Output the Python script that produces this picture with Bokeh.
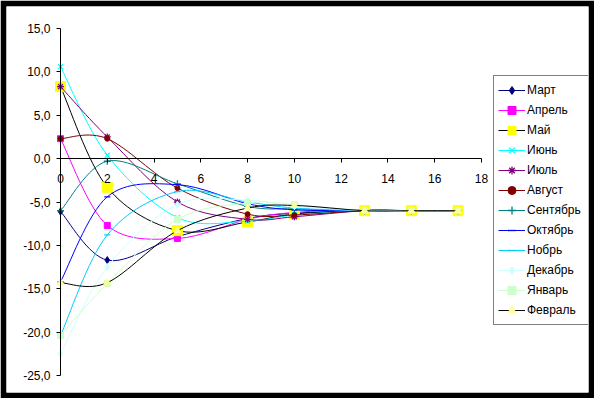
from bokeh.plotting import figure
from bokeh.models import (LinearAxis, Legend, LegendItem, FixedTicker, Range1d,
                          ColumnDataSource)
from bokeh.embed import file_html
from bokeh.resources import INLINE

# ---------------- data ----------------
x_vals = [0, 2, 5, 8, 10, 13, 15, 17]
x_ticks = [0, 2, 4, 6, 8, 10, 12, 14, 16, 18]
y_ticks = [-25, -20, -15, -10, -5, 0, 5, 10, 15]
y_tick_labels = ["-25,0", "-20,0", "-15,0", "-10,0", "-5,0", "0,0", "5,0", "10,0", "15,0"]

names = ["Март", "Апрель", "Май", "Июнь", "Июль", "Август",
         "Сентябрь", "Октябрь", "Нобрь", "Декабрь", "Январь", "Февраль"]

mart     = [-6.1, -11.7, -9.0, -6.9, -6.3, -6.0, -6.0, -6.0]
aprel    = [2.3, -7.7, -9.2, -7.0, -6.2, -5.9, -6.0, -6.0]
mai      = [8.3, -3.3, -8.3, -7.3, -6.4, -6.0, -6.0, -6.0]
iyun     = [10.6, 0.4, -6.8, -7.2, -6.5, -6.0, -6.0, -6.0]
iyul     = [8.3, 2.5, -5.0, -7.0, -6.7, -6.0, -6.0, -6.0]
avgust   = [2.3, 2.3, -3.4, -6.4, -6.5, -6.0, -6.0, -6.0]
sentyabr = [-6.0, -0.3, -2.9, -5.5, -5.8, -6.0, -6.0, -6.0]
oktyabr  = [-14.2, -4.4, -3.0, -5.2, -5.9, -6.0, -6.0, -6.0]
noyabr   = [-20.4, -8.8, -3.8, -5.0, -5.7, -6.0, -6.0, -6.0]
dekabr   = [-22.5, -12.5, -5.3, -4.8, -5.5, -6.0, -6.0, -6.0]
yanvar   = [-20.4, -14.4, -7.0, -5.1, -5.3, -6.0, -6.0, -6.0]
fevral   = [-14.3, -14.3, -8.3, -5.7, -5.4, -6.0, -6.0, -6.0]

series = [mart, aprel, mai, iyun, iyul, avgust, sentyabr, oktyabr, noyabr, dekabr, yanvar, fevral]

# ---------------- styles ----------------
line_colors = ["#000080", "#FF00FF", "#000000", "#00FFFF", "#800080", "#800000",
               "#008080", "#0000FF", "#00CCFF", "#CCFFFF", "#CCFFCC", "#000000"]
marker_fill = ["#000080", "#FF00FF", "#FFFF00", "#00FFFF", "#800080", "#800000",
               "#008080", "#0000FF", "#00CCFF", "#CCFFFF", "#CCFFCC", "#FFFF99"]
markers = ["diamond", "square", "square", "x", "asterisk", "circle",
           "cross", "dash", "dash", "diamond", "square", "triangle"]
msizes = [7, 6, 10, 7, 7, 5, 7, 6, 6, 7, 6, 7]

FONT = "Liberation Sans"

# ---------------- layout ----------------
W, H = 594, 398
B = 6  # black frame width
X0_PX, X18_PX = 60, 481
Y15_PX, YM25_PX = 28, 375
FW, FH = W - 2 * B, H - 2 * B
sx = (X18_PX - X0_PX) / 18.0
sy = (YM25_PX - Y15_PX) / 40.0
x_start = 0 - (X0_PX - B) / sx
x_end = x_start + FW / sx
y_end = 15 + (Y15_PX - B) / sy
y_start = y_end - FH / sy

p = figure(width=W, height=H, x_range=Range1d(x_start, x_end), y_range=Range1d(y_start, y_end),
           x_axis_location=None, y_axis_location=None,
           min_border_left=B, min_border_right=B, min_border_top=B, min_border_bottom=B,
           output_backend="svg", toolbar_location=None,
           background_fill_color="white", border_fill_color="black",
           outline_line_color=None)
p.xgrid.grid_line_color = None
p.ygrid.grid_line_color = None

xaxis = LinearAxis(fixed_location=0, bounds=(0, 18), ticker=FixedTicker(ticks=x_ticks))
xaxis.major_tick_in = 0
xaxis.major_tick_out = 4
xaxis.minor_tick_out = 0
xaxis.minor_tick_in = 0
xaxis.major_label_standoff = 11
xaxis.major_label_text_font = FONT
xaxis.major_label_text_font_size = "12px"
xaxis.major_label_text_color = "black"
xaxis.axis_line_color = "black"
xaxis.major_tick_line_color = "black"
p.add_layout(xaxis, "below")

yaxis = LinearAxis(fixed_location=0, bounds=(-25, 15), ticker=FixedTicker(ticks=y_ticks))
yaxis.major_label_overrides = {t: l for t, l in zip(y_ticks, y_tick_labels)}
yaxis.major_tick_in = 0
yaxis.major_tick_out = 4
yaxis.minor_tick_out = 0
yaxis.minor_tick_in = 0
yaxis.major_label_standoff = 6
yaxis.major_label_text_font = FONT
yaxis.major_label_text_font_size = "12px"
yaxis.major_label_text_color = "black"
yaxis.axis_line_color = "black"
yaxis.major_tick_line_color = "black"
p.add_layout(yaxis, "left")


def smooth_segments(xs, ys, t=1.0 / 6.0):
    n = len(xs)
    d = dict(x0=[], y0=[], x1=[], y1=[], cx0=[], cy0=[], cx1=[], cy1=[])
    for i in range(n - 1):
        xa, ya = xs[i], ys[i]
        xb, yb = xs[i + 1], ys[i + 1]
        xp, yp = (xs[i - 1], ys[i - 1]) if i > 0 else (xa, ya)
        xn, yn = (xs[i + 2], ys[i + 2]) if i + 2 < n else (xb, yb)
        d["x0"].append(xa); d["y0"].append(ya)
        d["x1"].append(xb); d["y1"].append(yb)
        d["cx0"].append(xa + (xb - xp) * t); d["cy0"].append(ya + (yb - yp) * t)
        d["cx1"].append(xb - (xn - xa) * t); d["cy1"].append(yb - (yn - ya) * t)
    return d


items = []
for name, ys, lc, mf, mk, ms in zip(names, series, line_colors, marker_fill, markers, msizes):
    seg = ColumnDataSource(smooth_segments(x_vals, ys))
    br = p.bezier(x0="x0", y0="y0", x1="x1", y1="y1", cx0="cx0", cy0="cy0",
                  cx1="cx1", cy1="cy1", source=seg, line_color=lc, line_width=1)
    sr = p.scatter(x=x_vals, y=ys, marker=mk, size=ms, fill_color=mf, line_color=mf,
                   line_width=1.3 if mk in ("x", "asterisk", "cross", "dash") else 1)
    items.append(LegendItem(label=name, renderers=[br, sr]))

legend = Legend(items=items, location=(487, 67))
legend.border_line_color = "black"
legend.border_line_width = 1
legend.background_fill_color = "white"
legend.background_fill_alpha = 1
legend.padding = 4
legend.margin = 0
legend.spacing = 0
legend.glyph_width = 27
legend.glyph_height = 20
legend.label_height = 20
legend.label_width = 57
legend.label_standoff = 2
legend.label_text_font = FONT
legend.label_text_font_size = "12px"
legend.label_text_color = "black"
p.add_layout(legend, "center")

open("out.html", "w").write(file_html(p, INLINE))
